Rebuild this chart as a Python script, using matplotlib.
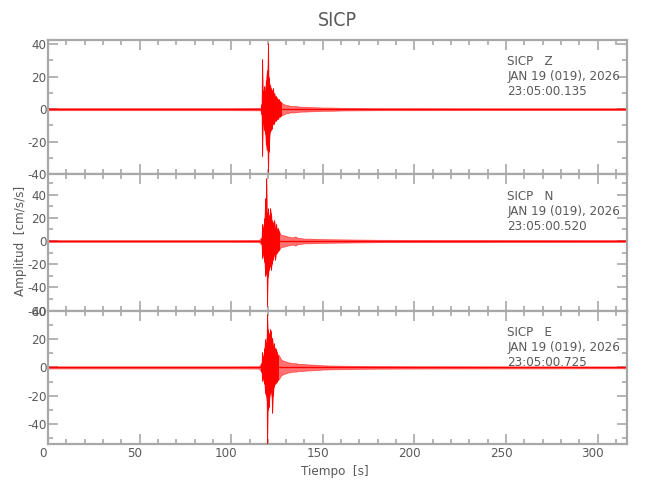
import numpy as np
import matplotlib
matplotlib.use("Agg")
import matplotlib.pyplot as plt
from matplotlib.ticker import MultipleLocator
from matplotlib.transforms import ScaledTranslation

plt.rcParams['font.family'] = ['DejaVu Sans']
plt.rcParams['font.stretch'] = 'condensed'
plt.rcParams['axes.unicode_minus'] = False

station = "SICP"
components = ["Z", "N", "E"]
start_times = ["23:05:00.135", "23:05:00.520", "23:05:00.725"]
date_label = "JAN 19 (019), 2026"

# envelope of each trace (time in s, amplitude in cm/s/s)
t_z = [0, 50, 100, 115, 116.0, 116.5, 116.9, 117.3, 117.7, 118.1, 118.5, 118.9, 119.3, 119.7,
       120.1, 120.4, 120.8, 121.2, 121.6, 122.0, 122.4, 122.8, 123.2, 123.6,
       124.0, 124.5, 125.0, 125.5, 126.0, 126.5, 127, 128, 129, 130,
       131, 132, 134, 136, 138, 140, 143, 146, 150, 155, 160, 170, 180, 200, 250, 316]
hi_z = [0.6, 0.6, 0.6, 0.7, 0.8, 3, 30.8, 12, 10, 14, 12, 18, 22, 24,
        40.4, 20, 16, 15, 13, 12, 11, 13, 9, 10,
        8, 8, 7, 6, 6, 5, 4.5, 3.5, 3, 2.5,
        2.5, 2, 2, 1.8, 1.5, 1.5, 1.3, 1.2, 1, 1, 0.8, 0.7, 0.6, 0.6, 0.5, 0.5]
lo_z = [-0.6, -0.6, -0.6, -0.7, -0.8, -3, -29, -10, -12, -13, -15, -22, -25, -24,
        -38.6, -26, -18, -14, -13, -12, -10, -9, -9, -8,
        -7, -7, -6, -6, -5, -4.5, -4, -3.5, -3, -2.5,
        -2.5, -2, -2, -1.8, -1.5, -1.5, -1.3, -1.2, -1, -1, -0.8, -0.7, -0.6, -0.6, -0.5, -0.5]

t_n = [0, 50, 100, 115, 116.5, 116.9, 117.3, 117.7, 118.1, 118.6, 119.0, 119.2, 119.6, 120.0,
       120.5, 120.9, 121.3, 121.7, 122.1, 122.6, 123.0, 123.5, 124.0, 124.5,
       125.0, 125.5, 126.0, 126.8, 127.5, 128.5, 129.5, 130.5, 132, 133.5,
       135, 136.5, 138, 140, 143, 146, 150, 155, 160, 170, 180, 200, 250, 316]
hi_n = [0.7, 0.7, 0.7, 0.8, 3, 15, 12, 14, 20, 37, 30, 54, 25, 28,
        22, 20, 28, 24, 18, 16, 14, 18, 12, 15,
        10, 11, 9, 6, 5, 5, 4.5, 4, 3.5, 3,
        4, 2.5, 2.5, 2, 2, 1.8, 1.6, 1.5, 1.4, 1.2, 1, 0.9, 0.8, 0.7]
lo_n = [-0.7, -0.7, -0.7, -0.8, -3, -15, -12, -14, -18, -30, -28, -20, -56, -31,
        -25, -22, -20, -25, -20, -16, -14, -12, -16, -11,
        -10, -9, -8, -6, -5, -5, -4.5, -4, -3.5, -3,
        -4, -2.5, -2.5, -2, -2, -1.8, -1.6, -1.5, -1.4, -1.2, -1, -0.9, -0.8, -0.7]

t_e = [0, 50, 100, 115, 116.5, 116.9, 117.3, 117.7, 118.1, 118.5, 118.9, 119.3, 119.6, 120.0,
       120.4, 120.8, 121.2, 121.6, 122.0, 122.4, 122.8, 123.2, 123.6, 124.0,
       124.4, 124.9, 125.4, 126.2, 127, 128, 129, 130, 131.5, 133.5,
       135, 137, 139, 141, 144, 147, 150, 155, 160, 170, 180, 200, 250, 316]
hi_e = [0.7, 0.7, 0.7, 0.8, 3, 10.7, 8, 9, 14, 20, 18, 22, 37.7, 27,
        24, 20, 27, 26, 18, 21, 16, 17, 12, 14,
        13, 11, 9, 8.4, 6, 5, 4.5, 4, 3.5, 3,
        3, 2.5, 2.5, 2.2, 2, 1.8, 1.5, 1.3, 1.2, 1, 0.9, 0.8, 0.7, 0.6]
lo_e = [-0.7, -0.7, -0.7, -0.8, -3, -9.3, -8, -10, -12, -18, -20, -24, -58, -30,
        -28, -22, -19, -18, -21, -32, -20, -14, -12, -11.7,
        -11, -10, -9, -8, -6, -5, -4.5, -4, -3.5, -3,
        -3, -2.5, -2.5, -2.2, -2, -1.8, -1.5, -1.3, -1.2, -1, -0.9, -0.8, -0.7, -0.6]

traces = [(t_z, hi_z, lo_z), (t_n, hi_n, lo_n), (t_e, hi_e, lo_e)]
ylims = [(-40, 42.8), (-60, 57.4), (-54, 40)]

grey = '#a8a8a8'
txt = '#5a5a5a'

fig = plt.figure(figsize=(6.5, 5), dpi=100)
# panel rectangles (left, bottom, width, height)
rects = [(0.0738, 0.6514, 0.8908, 0.2696),
         (0.0738, 0.3786, 0.8908, 0.2728),
         (0.0738, 0.1120, 0.8908, 0.2666)]

for i, (t, hi, lo) in enumerate(traces):
    ax = fig.add_axes(rects[i])
    t = np.array(t)
    hi = np.array(hi)
    lo = np.array(lo)
    ax.axhline(0, color='red', lw=1.0, zorder=2)
    ax.fill_between(t, lo, hi, color='red', alpha=0.55, lw=0.6, edgecolor='red', zorder=2)
    # single spikes only inside the closely sampled part of the trace
    dense = np.r_[np.diff(t) <= 0.5, False] | np.r_[False, np.diff(t) <= 0.5]
    ax.vlines(t[dense], lo[dense], hi[dense], color='red', lw=0.7, zorder=3)

    ax.set_xlim(0, 316)
    ax.set_ylim(*ylims[i])
    ax.xaxis.set_major_locator(MultipleLocator(50))
    ax.xaxis.set_minor_locator(MultipleLocator(10))
    ax.yaxis.set_major_locator(MultipleLocator(20))
    ax.yaxis.set_minor_locator(MultipleLocator(10))
    ax.tick_params(which='both', direction='in', top=True, right=True,
                   color=grey, labelcolor=txt, labelsize=9.5, pad=2)
    ax.tick_params(which='major', length=7, width=1.2)
    ax.tick_params(which='minor', length=3.5, width=1.2)
    ax.tick_params(axis='y', pad=1)
    for s in ax.spines.values():
        s.set_color(grey)
        s.set_linewidth(1.6)
    if i < 2:
        ax.set_xticklabels([])
    else:
        off = ScaledTranslation(-5 / 100, 0, fig.dpi_scale_trans)
        for lab in ax.get_xticklabels():
            lab.set_transform(lab.get_transform() + off)

    ax.text(0.793, 0.885, f"{station}   {components[i]}\n{date_label}\n{start_times[i]}",
            transform=ax.transAxes, ha='left', va='top', fontsize=9.5,
            color=txt, linespacing=1.2)

fig.text(0.519, 0.958, station, ha='center', va='center', fontsize=14, color=txt)
fig.text(0.031, 0.518, "Amplitud  [cm/s/s]", rotation=90, ha='center', va='center',
         fontsize=9.5, color=txt)
fig.text(0.515, 0.058, "Tiempo  [s]", ha='center', va='center', fontsize=9.5, color=txt)

fig.savefig("out.png", dpi=100)
